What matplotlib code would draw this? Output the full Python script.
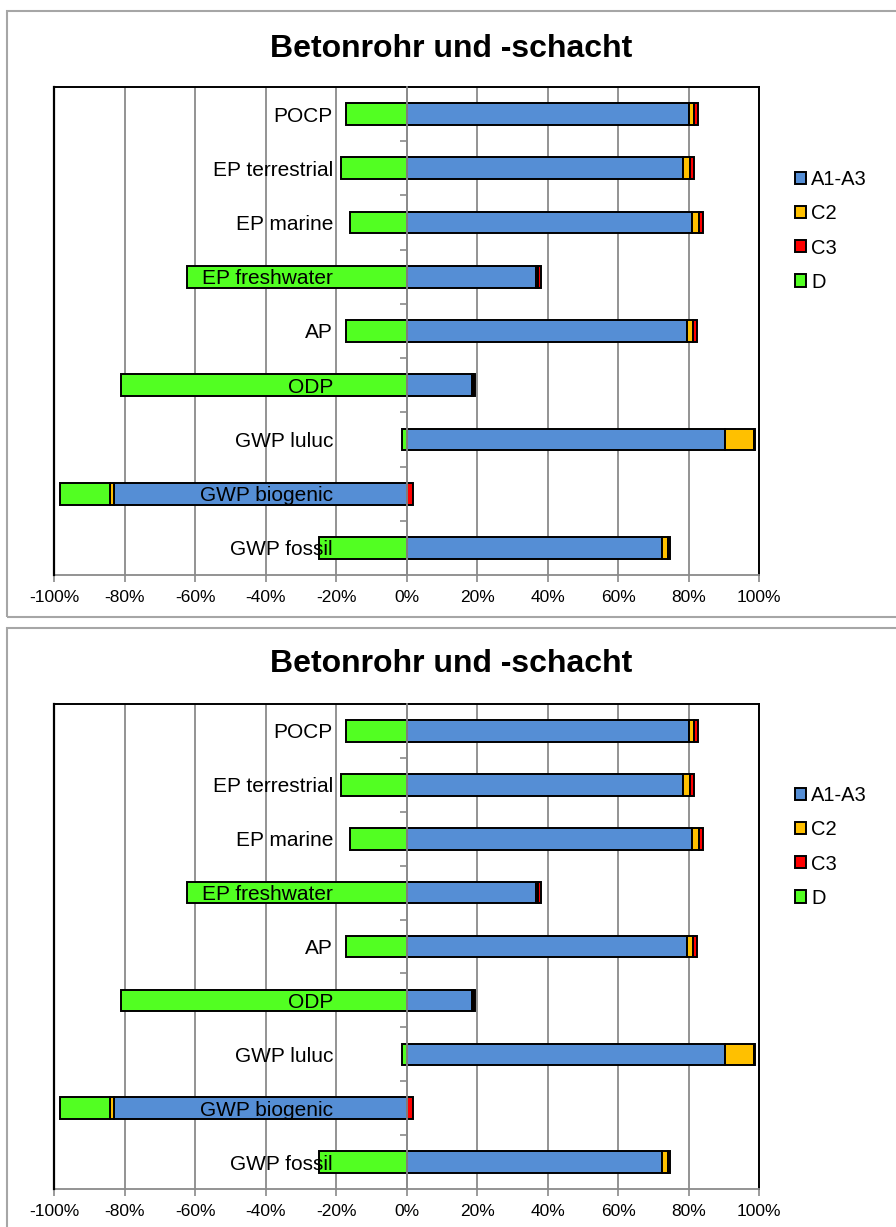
import numpy as np
import matplotlib
matplotlib.use('Agg')
import matplotlib.pyplot as plt
from matplotlib.patches import Rectangle

plt.rcParams['font.family'] = ['Liberation Sans', 'DejaVu Sans']

# Werte in % (von oben nach unten)
categories = ['POCP', 'EP terrestrial', 'EP marine', 'EP freshwater', 'AP',
              'ODP', 'GWP luluc', 'GWP biogenic', 'GWP fossil']
a1_a3 = [80.1, 78.4, 81.0, 36.6, 79.7, 18.7, 90.4, -83.1, 72.5]
c2 = [1.6, 2.1, 2.1, 0.8, 1.7, 0.3, 8.3, -1.0, 1.6]
c3 = [1.0, 1.2, 1.0, 0.7, 0.9, 0.3, 0.1, 1.8, 0.7]
d = [-17.1, -18.5, -15.9, -62.3, -17.3, -81.1, -1.3, -14.2, -24.9]

series_names = ['A1-A3', 'C2', 'C3', 'D']
colors = ['#558ed5', '#ffc000', '#ff0000', '#52ff22']
title = 'Betonrohr und -schacht'
xticks = np.arange(-100, 101, 20)

W, H = 896, 1227
fig = plt.figure(figsize=(W / 100, H / 100), dpi=100)

def fx(px):
    return px / W

def fy(py):
    return 1 - py / H


def draw_panel(top_px, bottom_px, title_base_px, legend_y_px):
    ax = fig.add_axes([fx(54), fy(bottom_px), fx(759) - fx(54), fy(top_px) - fy(bottom_px)])
    y = np.arange(len(categories))
    pos = np.zeros(len(categories))
    neg = np.zeros(len(categories))
    for name, vals, col in zip(series_names, [a1_a3, c2, c3, d], colors):
        vals = np.array(vals, dtype=float)
        left = np.where(vals >= 0, pos, neg)
        ax.barh(y, vals, left=left, height=0.4, color=col, edgecolor='black',
                linewidth=1.4, label=name, zorder=2)
        pos += np.clip(vals, 0, None)
        neg += np.clip(vals, None, 0)

    ax.set_xlim(-100, 100)
    ax.set_ylim(len(categories) - 0.5, -0.5)
    ax.set_xticks(xticks)
    ax.set_xticklabels([f'{v}%' for v in xticks])
    ax.set_axisbelow(True)
    ax.xaxis.grid(True, color='#8a8a8a', lw=1.3)
    ax.tick_params(axis='x', direction='out', length=5, color='#8a8a8a', width=1.2,
                   labelsize=12.5, pad=6)

    # y-Achse bei 0
    ax.spines['left'].set_position(('data', 0))
    ax.spines['left'].set_color('#8a8a8a')
    ax.spines['left'].set_linewidth(1.3)
    ax.spines['left'].set_zorder(3)
    ax.set_yticks(np.arange(-0.5, len(categories), 1))
    ax.tick_params(axis='y', direction='out', length=5, color='#8a8a8a', width=1.2,
                   labelleft=False)
    ax.spines['bottom'].set_color('#8a8a8a')
    ax.spines['bottom'].set_linewidth(1.3)
    for s in ['top', 'right']:
        ax.spines[s].set_color('black')
        ax.spines[s].set_linewidth(1.4)
    ax.axvline(ax.get_xlim()[0], color='black', lw=1.6, zorder=4, clip_on=False)

    for i, cat in enumerate(categories):
        ax.annotate(cat, xy=(0, i), xytext=(-53, 0), textcoords='offset points',
                    ha='right', va='center_baseline', fontsize=15, zorder=6)

    fig.text(fx(451), fy(title_base_px), title, ha='center', va='baseline',
             fontsize=23, fontweight='bold')

    ax.legend(loc='center left', bbox_to_anchor=(fx(795), fy(legend_y_px)),
              bbox_transform=fig.transFigure, frameon=False, fontsize=14.5,
              handlelength=0.55, handleheight=0.55, handletextpad=0.25,
              labelspacing=0.75, borderpad=0, borderaxespad=0)
    return ax


# Rahmen der beiden Diagramme
fig.add_artist(Rectangle((fx(7), fy(617)), 1, fy(11) - fy(617), transform=fig.transFigure,
                         fill=False, ec='#a6a6a6', lw=1.5))
fig.add_artist(Rectangle((fx(7), -0.1), 1, fy(628) + 0.1, transform=fig.transFigure,
                         fill=False, ec='#a6a6a6', lw=1.5))

draw_panel(87, 575, 57, 231)
draw_panel(704, 1189, 672, 847)

fig.savefig('out.png', dpi=100)
